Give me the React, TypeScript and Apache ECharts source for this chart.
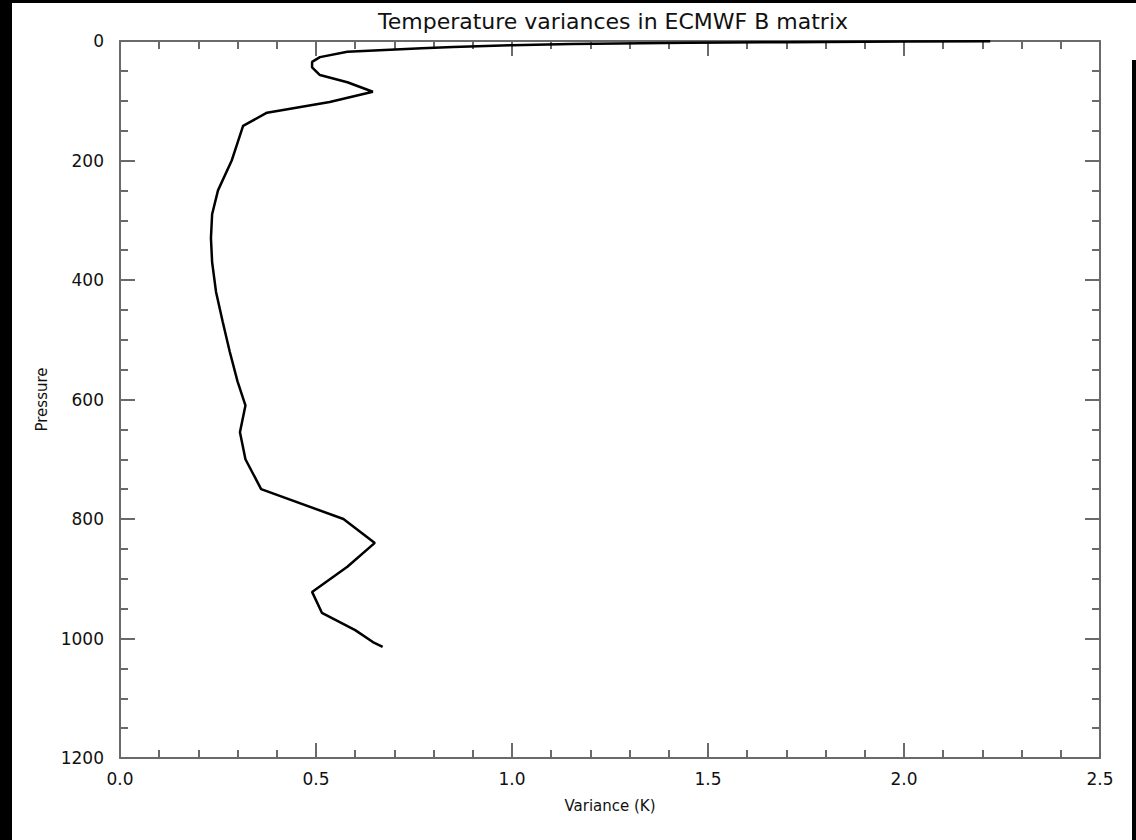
import React, { useEffect, useRef } from "react";
import * as echarts from "echarts";

const title = "Temperature variances in ECMWF B matrix";
const xName = "Variance (K)";
const yName = "Pressure";

const pressure = [0.5, 1, 2, 3, 5, 7, 10, 12, 18, 27, 35, 44, 57, 69, 85, 102, 120, 142, 170, 200, 250, 290, 330, 370, 420, 470, 520, 570, 610, 655, 700, 750, 800, 840, 880, 922, 957, 986, 1006, 1014];
const variance = [2.22, 2.0, 1.7, 1.45, 1.15, 1.0, 0.85, 0.77, 0.58, 0.51, 0.49, 0.49, 0.51, 0.58, 0.645, 0.535, 0.375, 0.314, 0.3, 0.285, 0.25, 0.235, 0.232, 0.235, 0.245, 0.262, 0.28, 0.3, 0.32, 0.306, 0.32, 0.36, 0.57, 0.65, 0.58, 0.49, 0.515, 0.6, 0.645, 0.67];

const FONT = "DejaVu Sans";
const AXIS_COLOR = "#6a6a6a";

export default function App() {
  const ref = useRef<HTMLDivElement>(null);
  useEffect(() => {
    const chart = echarts.init(ref.current!, null, { renderer: "svg" });
    const data = pressure.map((p, i) => [variance[i], p]);
    const axisLine = { show: true, onZero: false, lineStyle: { color: AXIS_COLOR, width: 2 } };
    const tick = { show: true, inside: true, length: 15, lineStyle: { color: AXIS_COLOR, width: 2 } };
    const minor = (n: number) => ({ show: true, splitNumber: n, length: 8, lineStyle: { color: AXIS_COLOR, width: 2 } });
    chart.setOption({
      animation: false,
      backgroundColor: "#ffffff",
      title: {
        text: title,
        left: 608,
        top: 5,
        textAlign: "center",
        textStyle: { fontFamily: FONT, fontSize: 22, fontWeight: "normal", color: "#111" },
      },
      grid: { left: 120, top: 41, width: 980, height: 717, containLabel: false },
      xAxis: [
        {
          type: "value",
          position: "bottom",
          min: 0,
          max: 2.5,
          interval: 0.5,
          name: xName,
          nameLocation: "middle",
          nameGap: 40,
          nameTextStyle: { fontFamily: FONT, fontSize: 15, color: "#111" },
          axisLine,
          axisTick: tick,
          minorTick: minor(5),
          splitLine: { show: false },
          axisLabel: { fontFamily: FONT, fontSize: 17, color: "#111", margin: 12, formatter: (v: number) => v.toFixed(1) },
        },
        {
          type: "value",
          position: "top",
          min: 0,
          max: 2.5,
          interval: 0.5,
          axisLine,
          axisTick: tick,
          minorTick: minor(5),
          splitLine: { show: false },
          axisLabel: { show: false },
        },
      ],
      yAxis: [
        {
          type: "value",
          position: "left",
          inverse: true,
          min: 0,
          max: 1200,
          interval: 200,
          name: yName,
          nameLocation: "middle",
          nameGap: 57,
          nameRotate: 90,
          nameTextStyle: { fontFamily: FONT, fontSize: 15, color: "#111" },
          axisLine,
          axisTick: tick,
          minorTick: minor(4),
          splitLine: { show: false },
          axisLabel: { fontFamily: FONT, fontSize: 17, color: "#111", margin: 16, formatter: (v: number) => String(v) },
        },
        {
          type: "value",
          position: "right",
          inverse: true,
          min: 0,
          max: 1200,
          interval: 200,
          axisLine,
          axisTick: tick,
          minorTick: minor(4),
          splitLine: { show: false },
          axisLabel: { show: false },
        },
      ],
      graphic: [
        { type: "rect", left: 0, top: 0, shape: { width: 12, height: 840 }, style: { fill: "#000" } },
        { type: "rect", left: 0, top: 0, shape: { width: 1136, height: 3 }, style: { fill: "#000" } },
        { type: "rect", left: 1132, top: 60, shape: { width: 4, height: 780 }, style: { fill: "#000" } },
      ],
      series: [
        {
          type: "line",
          xAxisIndex: 0,
          yAxisIndex: 0,
          data,
          showSymbol: false,
          symbol: "none",
          lineStyle: { color: "#000", width: 2.5 },
        },
      ],
    });
    return () => chart.dispose();
  }, []);
  return (
    <div
      ref={ref}
      style={{ position: "fixed", left: 0, top: 0, width: 1136, height: 840 }}
    />
  );
}
